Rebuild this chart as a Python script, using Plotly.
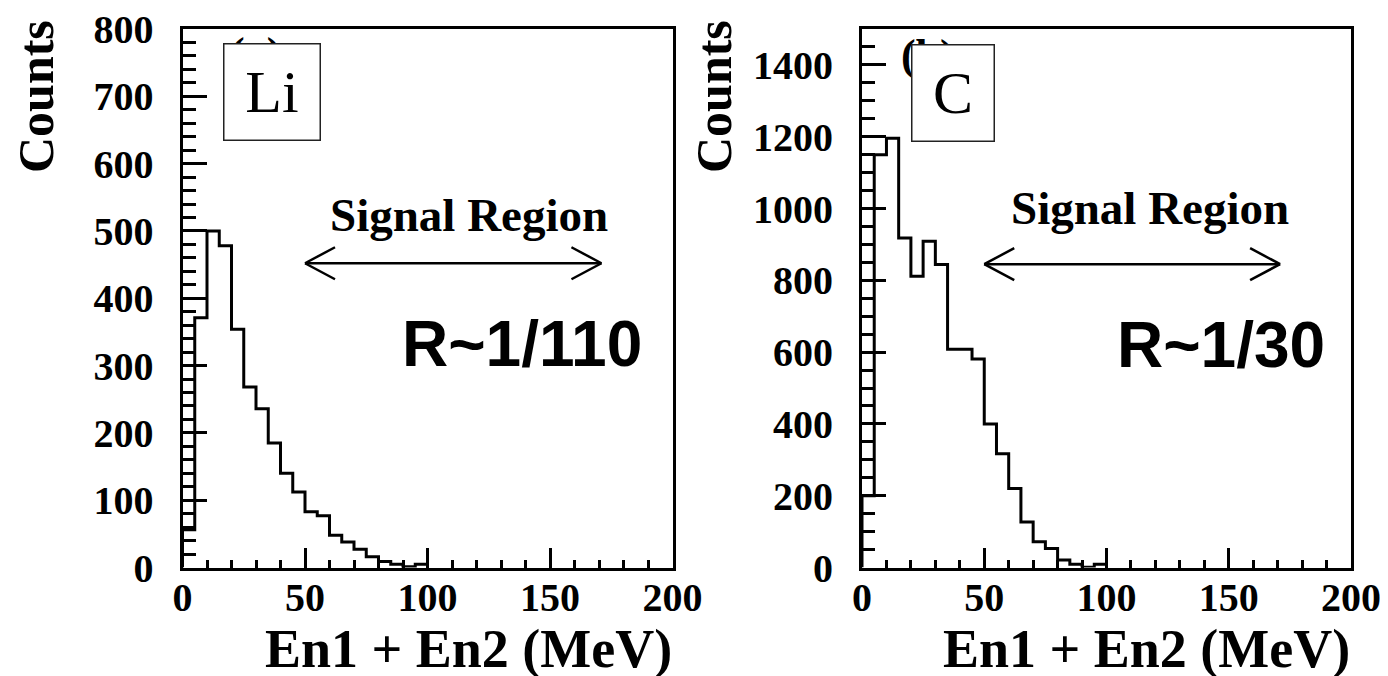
import plotly.graph_objects as go

# ---------------- data ----------------
bin_edges = [0, 5, 10, 15, 20, 25, 30, 35, 40, 45, 50, 55, 60, 65, 70, 75, 80, 85, 90, 95, 100]
li_counts = [56, 371, 500, 478, 354, 268, 236, 185, 140, 112, 83, 77, 48, 38, 27, 16, 9, 5, 1, 5]
c_counts = [200, 1150, 1196, 918, 811, 909, 844, 608, 608, 581, 400, 317, 220, 127, 72, 53, 21, 9, 1, 9]

x_ticks = [0, 50, 100, 150, 200]
li_y_ticks = [0, 100, 200, 300, 400, 500, 600, 700, 800]
c_y_ticks = [0, 200, 400, 600, 800, 1000, 1200, 1400]

signal_region = [50, 171]
panel_labels = ["(a)", "(b)"]
targets = ["Li", "C"]
ratios = ["R~1/110", "R~1/30"]
x_title = "En1 + En2 (MeV)"
y_title = "Counts"

SERIF = "Liberation Serif"
SANS = "Liberation Sans"

# page body has an 8px margin: size the figure so it fills the 1388x676 window
OFF = 8
W, H = 1388 - OFF, 676 - OFF


def px(x):  # window pixel -> paper fraction (x)
    return (x - OFF) / W


def py(y):  # window pixel -> paper fraction (y)
    return 1 - (y - OFF) / H


y_dom = [py(567.5), py(29)]
x1_dom = [px(182.5), px(672.5)]
x2_dom = [px(862), px(1351)]


def step_xy(edges, counts):
    xs = [edges[0]] + list(edges)
    ys = [0] + list(counts) + [0]
    return xs, ys


fig = go.Figure()
for counts, xa, ya in [(li_counts, "x", "y"), (c_counts, "x2", "y2")]:
    xs, ys = step_xy(bin_edges, counts)
    fig.add_trace(go.Scatter(x=xs, y=ys, mode="lines", line=dict(shape="hv", color="black", width=3),
                             xaxis=xa, yaxis=ya, showlegend=False, hoverinfo="skip"))

tickfont = dict(family=SERIF, size=40, color="black", weight="bold")
common_x = dict(range=[0, 200], tickvals=x_ticks, ticks="inside", ticklen=20, tickwidth=3,
                tickcolor="black", showline=True, linewidth=3, linecolor="black", mirror=True,
                showgrid=False, zeroline=False, tickfont=tickfont, ticklabelstandoff=-8, automargin=False,
                ticklabeloverflow="allow",
                minor=dict(dtick=10, ticks="inside", ticklen=8, tickwidth=3, tickcolor="black", showgrid=False))
common_y = dict(ticks="inside", ticklen=24, tickwidth=3, tickcolor="black", showline=True, linewidth=3,
                linecolor="black", mirror=True, showgrid=False, zeroline=False, tickfont=tickfont,
                ticklabelstandoff=18, automargin=False, ticklabeloverflow="allow")

fig.update_layout(
    template="none",
    width=W, height=H, margin=dict(l=0, r=0, t=0, b=0, autoexpand=False),
    paper_bgcolor="white", plot_bgcolor="white",
    xaxis=dict(domain=x1_dom, anchor="y", **common_x),
    xaxis2=dict(domain=x2_dom, anchor="y2", **common_x),
    yaxis=dict(domain=y_dom, anchor="x", range=[0, 800], tickvals=li_y_ticks,
               minor=dict(dtick=20, ticks="inside", ticklen=13, tickwidth=3, tickcolor="black", showgrid=False),
               **common_y),
    yaxis2=dict(domain=y_dom, anchor="x2", range=[0, 1500], tickvals=c_y_ticks,
                minor=dict(dtick=50, ticks="inside", ticklen=13, tickwidth=3, tickcolor="black", showgrid=False),
                **common_y),
)

ann = []
shapes = []
panels = [
    dict(xr="x", yr="y", lab_x=29.8, lab_y=764, box_x=36.5, box_y=707, box_w=93,
         sig_x=117.1, sig_y=523, arr_y=452, r_x=138.4, r_y=332, dom=x1_dom, cnt_x=36),
    dict(xr="x2", yr="y2", lab_x=26.8, lab_y=1426, box_x=37.1, box_y=1323, box_w=79,
         sig_x=117.6, sig_y=1001, arr_y=845, r_x=147, r_y=621, dom=x2_dom, cnt_x=714),
]
HEAD_LEN, HEAD_HALF = 30, 16
for i, p in enumerate(panels):
    # panel label, partially hidden behind the target box
    ann.append(dict(x=p["lab_x"], y=p["lab_y"], xref=p["xr"], yref=p["yr"], text=panel_labels[i],
                    showarrow=False, font=dict(family=SERIF, size=44, color="black", weight="bold"),
                    xanchor="center", yanchor="middle"))
    ann.append(dict(x=p["box_x"], y=p["box_y"], xref=p["xr"], yref=p["yr"], text=targets[i],
                    showarrow=False, font=dict(family=SERIF, size=60, color="black"),
                    bgcolor="white", bordercolor="#222", borderwidth=1.5, borderpad=1,
                    width=p["box_w"], height=93, xanchor="center", yanchor="middle"))
    ann.append(dict(x=p["sig_x"], y=p["sig_y"], xref=p["xr"], yref=p["yr"], text="Signal Region",
                    showarrow=False, font=dict(family=SERIF, size=47, color="black", weight="bold"),
                    xanchor="center", yanchor="middle"))
    # double-headed arrow: shaft + open chevrons
    shapes.append(dict(type="line", xref=p["xr"], yref=p["yr"], x0=signal_region[0], x1=signal_region[1],
                       y0=p["arr_y"], y1=p["arr_y"], line=dict(color="black", width=2.5)))
    for end, sgn in [(signal_region[0], 1), (signal_region[1], -1)]:
        for vs in (1, -1):
            shapes.append(dict(type="line", xref=p["xr"], yref=p["yr"],
                               xsizemode="pixel", xanchor=end, x0=0, x1=sgn * HEAD_LEN,
                               ysizemode="pixel", yanchor=p["arr_y"], y0=0, y1=vs * HEAD_HALF,
                               line=dict(color="black", width=2.5)))
    ann.append(dict(x=p["r_x"], y=p["r_y"], xref=p["xr"], yref=p["yr"], text=ratios[i],
                    showarrow=False, font=dict(family=SANS, size=64, color="black", weight="bold"),
                    xanchor="center", yanchor="middle"))
    ann.append(dict(x=p["dom"][1] + 1 / W, y=py(649), xref="paper", yref="paper", text=x_title,
                    showarrow=False, font=dict(family=SERIF, size=54, color="black", weight="bold"),
                    xanchor="right", yanchor="middle"))
    ann.append(dict(x=px(p["cnt_x"]), y=py(97), xref="paper", yref="paper", text=y_title,
                    showarrow=False, textangle=-90,
                    font=dict(family=SERIF, size=50, color="black", weight="bold"),
                    xanchor="center", yanchor="middle"))

fig.update_layout(annotations=ann, shapes=shapes)
fig.write_html("out.html")
